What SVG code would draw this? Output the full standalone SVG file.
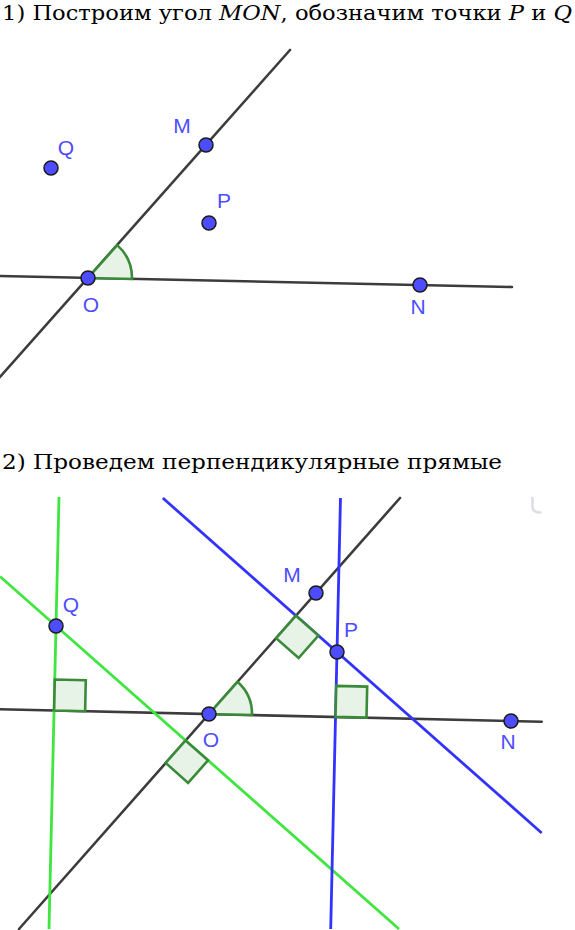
<svg xmlns="http://www.w3.org/2000/svg" width="575" height="930" viewBox="0 0 575 930">
<style>
.title{font-family:"DejaVu Serif","Liberation Serif",serif;font-size:21px;fill:#000}
.it{font-style:italic}
.ln{stroke:#3c3c3c;stroke-width:2.6;fill:none;stroke-linecap:round}
.gr{stroke:#3fe63f;stroke-width:2.8;fill:none}
.bl{stroke:#3333ff;stroke-width:2.8;fill:none}
.ang{fill:#e3f2e3;fill-opacity:0.9;stroke:#3a8a3a;stroke-width:2.6;stroke-linejoin:miter}
.pt{fill:#4d4dff;stroke:#1a1a1a;stroke-width:1.5}
.lb{font-family:"Liberation Sans",Arial,sans-serif;font-size:21px;fill:#4d4dff;text-anchor:middle}
</style>
<rect width="575" height="930" fill="#fff"/>
<text id="title1" class="title" x="2" y="20" textLength="570" lengthAdjust="spacingAndGlyphs">1) Построим угол <tspan class="it">MON</tspan>, обозначим точки <tspan class="it">P</tspan> и <tspan class="it">Q</tspan></text>
<text id="title2" class="title" x="2" y="469" textLength="500" lengthAdjust="spacingAndGlyphs">2) Проведем перпендикулярные прямые</text>

<g id="connectors1">
<line class="ln" x1="0" y1="377" x2="290" y2="50"/>
<line class="ln" x1="0" y1="276" x2="512" y2="287"/>
</g>
<g id="angle1"><path class="ang" d="M88,278 L132,279 A44,44 0 0 0 117.2,245.1 Z"/></g>
<g id="O1"><circle class="pt" cx="88" cy="278" r="7"/><text class="lb" x="91" y="312">O</text></g>
<g id="M1"><circle class="pt" cx="206" cy="145" r="7"/><text class="lb" x="182" y="133">M</text></g>
<g id="N1"><circle class="pt" cx="420" cy="285" r="7"/><text class="lb" x="418" y="314">N</text></g>
<g id="Q1"><circle class="pt" cx="51" cy="168" r="7"/><text class="lb" x="66" y="155">Q</text></g>
<g id="P1"><circle class="pt" cx="209" cy="223" r="7"/><text class="lb" x="224" y="208">P</text></g>

<g id="connectors2">
<line class="ln" x1="19" y1="929" x2="400" y2="498"/>
<line class="ln" x1="0" y1="709.3" x2="541.7" y2="721.7"/>
<line class="gr" x1="59" y1="497" x2="49" y2="929"/>
<line class="gr" x1="0" y1="576.5" x2="399" y2="929"/>
<line class="bl" x1="340.5" y1="498" x2="330.7" y2="929"/>
<line class="bl" x1="162.8" y1="498" x2="541.7" y2="833"/>
</g>
<g id="angles2">
<path class="ang" d="M209,714 L252,715 A43,43 0 0 0 237.5,681.8 Z"/>
<path class="ang" d="M54.1,710.5 L85.1,711.2 L85.8,680.2 L54.8,679.5 Z"/>
<path class="ang" d="M335.5,716.9 L366.5,717.6 L367.2,686.6 L336.2,685.9 Z"/>
<path class="ang" d="M185.5,740.5 L165.7,763 L188.1,782.9 L208,760.4 Z"/>
<path class="ang" d="M296,615.7 L276.1,638.2 L298.6,658 L318.4,635.6 Z"/>
</g>
<g id="O2"><circle class="pt" cx="209" cy="714" r="7"/><text class="lb" x="211" y="747">O</text></g>
<g id="M2"><circle class="pt" cx="316" cy="593" r="7"/><text class="lb" x="292" y="582">M</text></g>
<g id="N2"><circle class="pt" cx="511" cy="721" r="7"/><text class="lb" x="508" y="749">N</text></g>
<g id="Q2"><circle class="pt" cx="56" cy="626" r="7"/><text class="lb" x="71" y="612">Q</text></g>
<g id="P2"><circle class="pt" cx="337" cy="652" r="7"/><text class="lb" x="351" y="637">P</text></g>
<path d="M532.5,498 L532.5,507 Q533,512.5 540.5,512.5" fill="none" stroke="#dcdce6" stroke-width="2.5" stroke-linecap="round"/>
</svg>
